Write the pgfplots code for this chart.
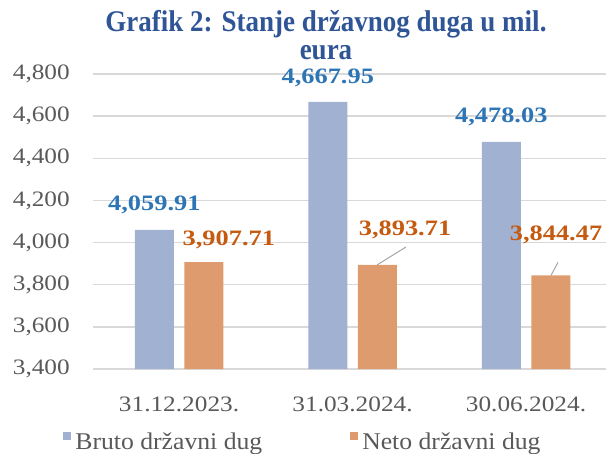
\documentclass[border=0pt]{standalone}
\usepackage{pgfplots}
\pgfplotsset{compat=1.18}
\usepackage{fontspec}
\setmainfont{Liberation Serif}
\newfontfamily\titlefont[FakeStretch=0.9]{Liberation Serif}
\newfontfamily\tickfont[FakeStretch=1.15]{Liberation Serif}
\newfontfamily\labfont[FakeStretch=1.2]{Liberation Serif}
\newfontfamily\legfont[FakeStretch=1.07]{Liberation Serif}
\definecolor{titleblue}{HTML}{2F5597}
\definecolor{lblue}{HTML}{2E75B6}
\definecolor{lorange}{HTML}{C55A11}
\definecolor{barblue}{HTML}{A0B1D2}
\definecolor{barorange}{HTML}{DE9B6E}
\definecolor{tickgray}{HTML}{595959}
\definecolor{gridgray}{HTML}{D9D9D9}
\definecolor{leadgray}{HTML}{A6A6A6}
\begin{document}
\begin{tikzpicture}
\useasboundingbox (0,0) rectangle (606bp,454bp);
\begin{axis}[
  at={(93bp,85bp)}, anchor=south west,
  scale only axis, width=513bp, height=295bp,
  xmin=-0.496, xmax=2.461, ymin=3400, ymax=4800,
  clip=false,
  ybar, bar width=39bp,
  axis line style={draw=none}, tick style={draw=none},
  ymajorgrids, grid style={gridgray, line width=1.3bp},
  ytick={3400,3600,...,4800},
  yticklabels={{3,400},{3,600},{3,800},{4,000},{4,200},{4,400},{4,600},{4,800}},
  yticklabel style={font=\tickfont\fontsize{22bp}{26bp}\selectfont, text=tickgray, anchor=east, inner sep=0pt, xshift=-23bp},
  xtick={0,1,2},
  xticklabels={31.12.2023.,31.03.2024.,30.06.2024.},
  xticklabel style={font=\tickfont\fontsize{22bp}{26bp}\selectfont, text=tickgray, anchor=north, inner sep=0pt, yshift=-23bp},
  legend columns=2,
  legend image code/.code={\fill[#1] (0bp,2bp) rectangle (8bp,10bp);},
  legend style={at={(axis description cs:-0.058,-0.246)}, anchor=west, draw=none, fill=none, inner sep=0pt,
    font=\legfont\fontsize{24bp}{28bp}\selectfont, text=tickgray, nodes={inner sep=0pt},
    /tikz/column 1/.style={column sep=4bp}, /tikz/column 2/.style={column sep=88bp}, /tikz/column 3/.style={column sep=4bp}},
]
\addplot[fill=barblue, draw=none, bar shift=-24.75bp] coordinates {(0,4059.91) (1,4667.95) (2,4478.03)};
\addplot[fill=barorange, draw=none, bar shift=24.75bp] coordinates {(0,3907.71) (1,3893.71) (2,3844.47)};
\legend{Bruto državni dug, Neto državni dug}
\tikzset{bl/.style={font=\labfont\bfseries\fontsize{22bp}{26bp}\selectfont, text=lblue, anchor=center, inner sep=0pt},
         ol/.style={font=\labfont\bfseries\fontsize{22bp}{26bp}\selectfont, text=lorange, anchor=center, inner sep=0pt}}
\node[bl, xshift=-24.75bp, yshift=25bp] at (axis cs:0,4059.91) {4,059.91};
\node[bl, xshift=-24.75bp, yshift=24bp] at (axis cs:1,4667.95) {4,667.95};
\node[bl, xshift=-24.75bp, yshift=25bp] at (axis cs:2,4478.03) {4,478.03};
\node[ol, xshift=49.75bp, yshift=22bp] at (axis cs:0,3907.71) {3,907.71};
\node[ol, xshift=52.5bp, yshift=35bp] at (axis cs:1,3893.71) {3,893.71};
\node[ol, xshift=30bp, yshift=40bp] at (axis cs:2,3844.47) {3,844.47};
\draw[leadgray, line width=1bp] ([xshift=24.5bp]axis cs:1,3893.71) -- ([xshift=53.5bp, yshift=18bp]axis cs:1,3893.71);
\draw[leadgray, line width=1bp] ([xshift=25bp]axis cs:2,3844.47) -- ([xshift=32bp, yshift=13bp]axis cs:2,3844.47);
\end{axis}
\node[anchor=base, text=titleblue, font=\titlefont\bfseries\fontsize{30bp}{34bp}\selectfont, inner sep=0pt] at (326bp,422bp) {Grafik 2: Stanje državnog duga u mil.};
\node[anchor=base, text=titleblue, font=\titlefont\bfseries\fontsize{30bp}{34bp}\selectfont, inner sep=0pt] at (326bp,394bp) {eura};
\end{tikzpicture}
\end{document}
